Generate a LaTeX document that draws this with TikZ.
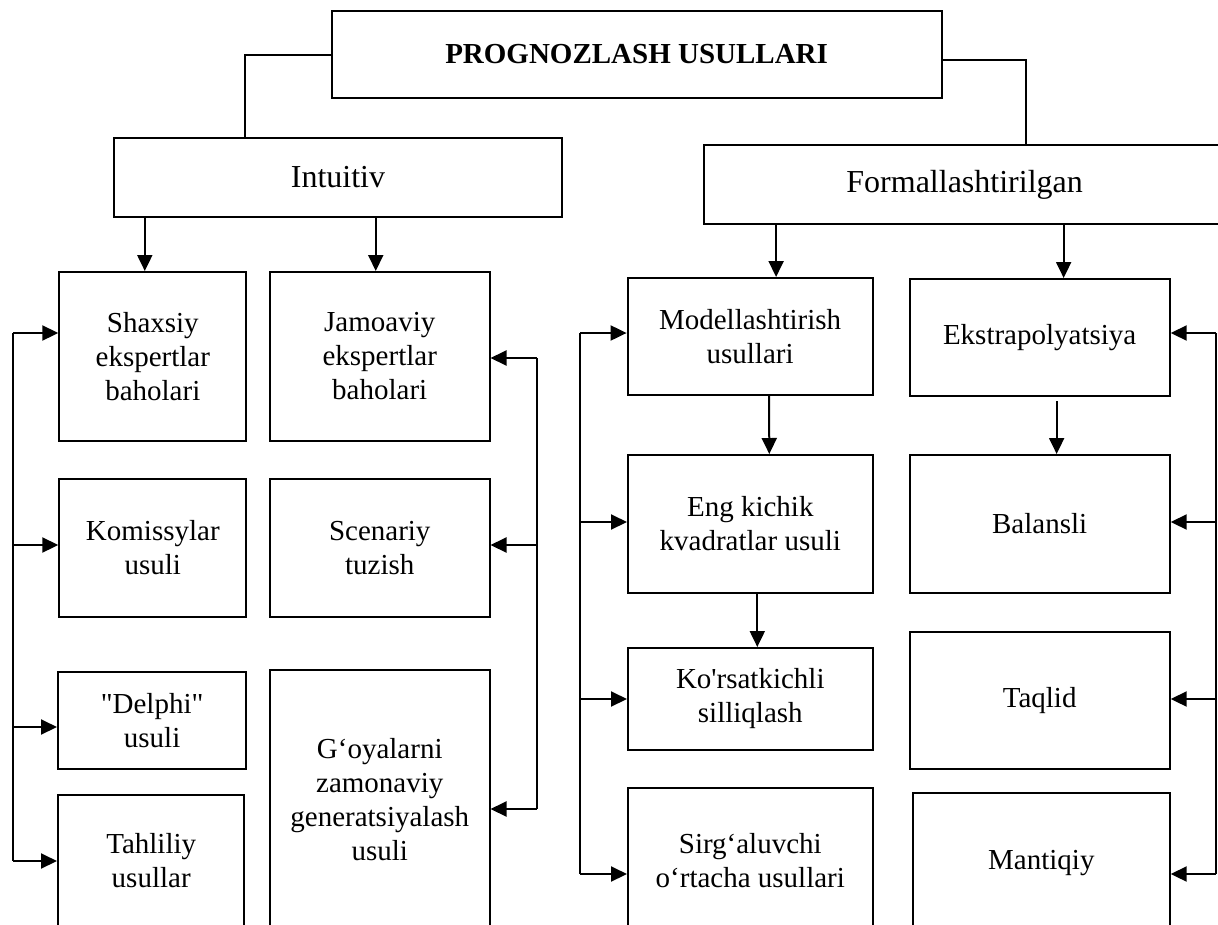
\documentclass[tikz,border=0pt]{standalone}
\usepackage{fontspec}
\setmainfont{Liberation Serif}[Ligatures=TeXOff]
\usetikzlibrary{arrows.meta}
\begin{document}
\begin{tikzpicture}[x=1pt,y=-1pt,
  box/.style={draw, line width=2pt, inner sep=0pt, align=center,
    font=\fontsize{29}{34}\selectfont},
  bigbox/.style={box, font=\fontsize{32}{38}\selectfont},
  ln/.style={line width=2pt},
  arr/.style={line width=2pt, -{Triangle[length=16pt,width=15pt]}}]
\useasboundingbox (0,0) rectangle (1218,924);
\clip (0,0) rectangle (1218,924);

% main nodes
\node[box, font=\bfseries\fontsize{29}{34}\selectfont, minimum width=609.8pt, minimum height=87pt] (top) at (636.6,54.5) {PROGNOZLASH USULLARI};
\node[bigbox, minimum width=448pt, minimum height=79pt] (intu) at (338,177.5) {Intuitiv};
\node[bigbox, minimum width=521.8pt, minimum height=79pt] (form) at (964.6,184.5) {Formallashtirilgan};

% left group
\node[box, minimum width=187pt, minimum height=169pt] (shax) at (152.8,356.5) {Shaxsiy\\ekspertlar\\baholari};
\node[box, minimum width=219.5pt, minimum height=169pt] (jamo) at (379.75,356.5) {Jamoaviy\\ekspertlar\\baholari};
\node[box, minimum width=187pt, minimum height=138pt] (kom) at (152.8,548) {Komissylar\\usuli};
\node[box, minimum width=219.5pt, minimum height=138pt] (scen) at (379.75,548) {Scenariy\\tuzish};
\node[box, minimum width=188.3pt, minimum height=97pt] (delp) at (152.15,720.5) {"Delphi"\\usuli};
\node[box, minimum width=219.5pt, minimum height=260pt] (goya) at (379.75,800) {G‘oyalarni\\zamonaviy\\generatsiyalash\\usuli};
\node[box, minimum width=186.4pt, minimum height=132pt] (tahl) at (151.2,861) {Tahliliy\\usullar};

% right group
\node[box, minimum width=245pt, minimum height=117pt] (mod) at (750.1,336.5) {Modellashtirish\\usullari};
\node[box, minimum width=260.1pt, minimum height=117pt] (ekst) at (1039.65,337.5) {Ekstrapolyatsiya};
\node[box, minimum width=244.6pt, minimum height=138pt] (eng) at (750.3,524) {Eng kichik\\kvadratlar usuli};
\node[box, minimum width=260.1pt, minimum height=138pt] (bal) at (1039.65,524) {Balansli};
\node[box, minimum width=244.6pt, minimum height=102pt] (kor) at (750.3,699) {Ko'rsatkichli\\silliqlash};
\node[box, minimum width=260.1pt, minimum height=137pt] (taq) at (1039.65,700.5) {Taqlid};
\node[box, minimum width=244.6pt, minimum height=146pt] (sirg) at (750.3,861) {Sirg‘aluvchi\\o‘rtacha usullari};
\node[box, minimum width=256.7pt, minimum height=140pt] (mant) at (1041.35,863) {Mantiqiy};

% top connectors
\draw[ln] (top.west) -| ([xshift=132pt]intu.north west);
\draw[ln] ([yshift=-5.5pt]top.east) -| ([xshift=322.8pt]form.north west);

% down arrows
\draw[arr] ([xshift=-8pt]shax.north |- intu.south) -- ([xshift=-8pt]shax.north);
\draw[arr] ([xshift=-4pt]jamo.north |- intu.south) -- ([xshift=-4pt]jamo.north);
\draw[arr] ([xshift=26pt]mod.north |- form.south) -- ([xshift=26pt]mod.north);
\draw[arr] ([xshift=24pt]ekst.north |- form.south) -- ([xshift=24pt]ekst.north);
\draw[arr] ([xshift=19pt]mod.south) -- ([xshift=19pt]eng.north);
\draw[arr] ([xshift=17pt,yshift=-4pt]ekst.south) -- ([xshift=17pt]bal.north);
\draw[arr] ([xshift=7pt]eng.south) -- ([xshift=7pt]kor.north);

% left bus of left group
\coordinate (L1) at (13,333);
\coordinate (L2) at (13,545);
\coordinate (L3) at (13,727);
\coordinate (L4) at (13,861);
\draw[ln] (L1) -- (L4);
\draw[arr] (L1) -- (L1 -| shax.west);
\draw[arr] (L2) -- (L2 -| kom.west);
\draw[arr] (L3) -- (L3 -| delp.west);
\draw[arr] (L4) -- (L4 -| tahl.west);

% right bus of left group
\coordinate (R1) at (536.6,358);
\coordinate (R2) at (536.6,545);
\coordinate (R3) at (536.6,809);
\draw[ln] (R1) -- (R3);
\draw[arr] (R1) -- (R1 -| jamo.east);
\draw[arr] (R2) -- (R2 -| scen.east);
\draw[arr] (R3) -- (R3 -| goya.east);

% left bus of right group
\coordinate (M1) at (580,333);
\coordinate (M2) at (580,522);
\coordinate (M3) at (580,699);
\coordinate (M4) at (580,874);
\draw[ln] (M1) -- (M4);
\draw[arr] (M1) -- (M1 -| mod.west);
\draw[arr] (M2) -- (M2 -| eng.west);
\draw[arr] (M3) -- (M3 -| kor.west);
\draw[arr] (M4) -- (M4 -| sirg.west);

% right bus of right group
\coordinate (N1) at (1216,333);
\coordinate (N2) at (1216,522);
\coordinate (N3) at (1216,699);
\coordinate (N4) at (1216,874);
\draw[ln] (N1) -- (N4);
\draw[arr] (N1) -- (N1 -| ekst.east);
\draw[arr] (N2) -- (N2 -| bal.east);
\draw[arr] (N3) -- (N3 -| taq.east);
\draw[arr] (N4) -- (N4 -| mant.east);
\end{tikzpicture}
\end{document}
